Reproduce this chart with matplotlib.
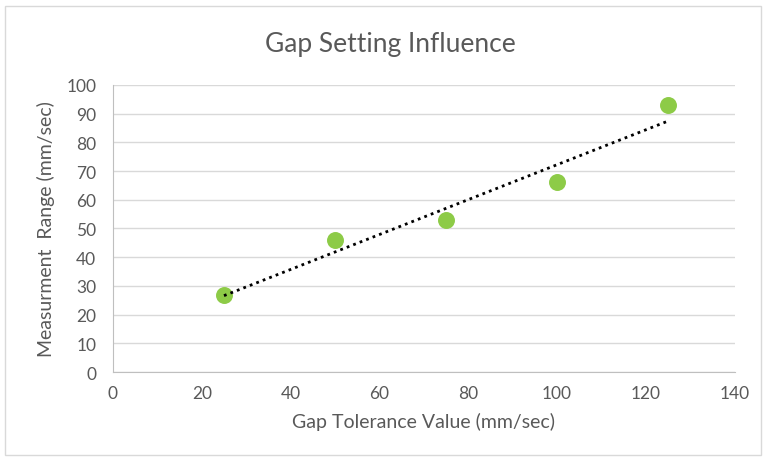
import numpy as np
import matplotlib.pyplot as plt
from matplotlib.patches import Rectangle

# Data
gap_tolerance = [25, 50, 75, 100, 125]
measurement_range = [27, 46, 53, 66, 93]
x_ticks = [0, 20, 40, 60, 80, 100, 120, 140]
y_ticks = [0, 10, 20, 30, 40, 50, 60, 70, 80, 90, 100]

plt.rcParams['font.family'] = ['Lato', 'DejaVu Sans']

fig = plt.figure(figsize=(7.63, 4.64), dpi=100)
ax = fig.add_axes([0.148, 0.196, 0.815, 0.619])

# chart border like the Excel chart area
fig.patches.append(Rectangle((0.007, 0.018), 0.99, 0.967, transform=fig.transFigure,
                             fill=False, edgecolor='#d9d9d9', linewidth=1))

# linear trendline
coef = np.polyfit(gap_tolerance, measurement_range, 1)
trend_x = np.array([gap_tolerance[0], gap_tolerance[-1]])
ax.plot(trend_x, np.polyval(coef, trend_x), color='black', linestyle=(0, (1, 1.5)),
        linewidth=2, zorder=3)

ax.scatter(gap_tolerance, measurement_range, s=125, color='#8dcb47', zorder=2)

ax.set_xlim(0, 140)
ax.set_ylim(0, 100)
ax.set_xticks(x_ticks)
ax.set_yticks(y_ticks)
ax.grid(axis='y', color='#d9d9d9', linewidth=1)
ax.set_axisbelow(True)
for side in ['top', 'right']:
    ax.spines[side].set_visible(False)
for side in ['left', 'bottom']:
    ax.spines[side].set_color('#bfbfbf')
ax.tick_params(length=0, labelsize=12.5, colors='#595959')
ax.tick_params(axis='y', pad=12)
ax.tick_params(axis='x', pad=9)

# title is centred on the whole chart area, as Excel does
fig.text(0.512, 0.905, 'Gap Setting Influence', fontsize=19, color='#595959',
         ha='center', va='center')
ax.set_xlabel('Gap Tolerance Value (mm/sec)', fontsize=14, color='#595959', labelpad=8)
ax.set_ylabel('Measurment  Range (mm/sec)', fontsize=14, color='#595959', labelpad=8)

fig.savefig('out.png', dpi=100)
